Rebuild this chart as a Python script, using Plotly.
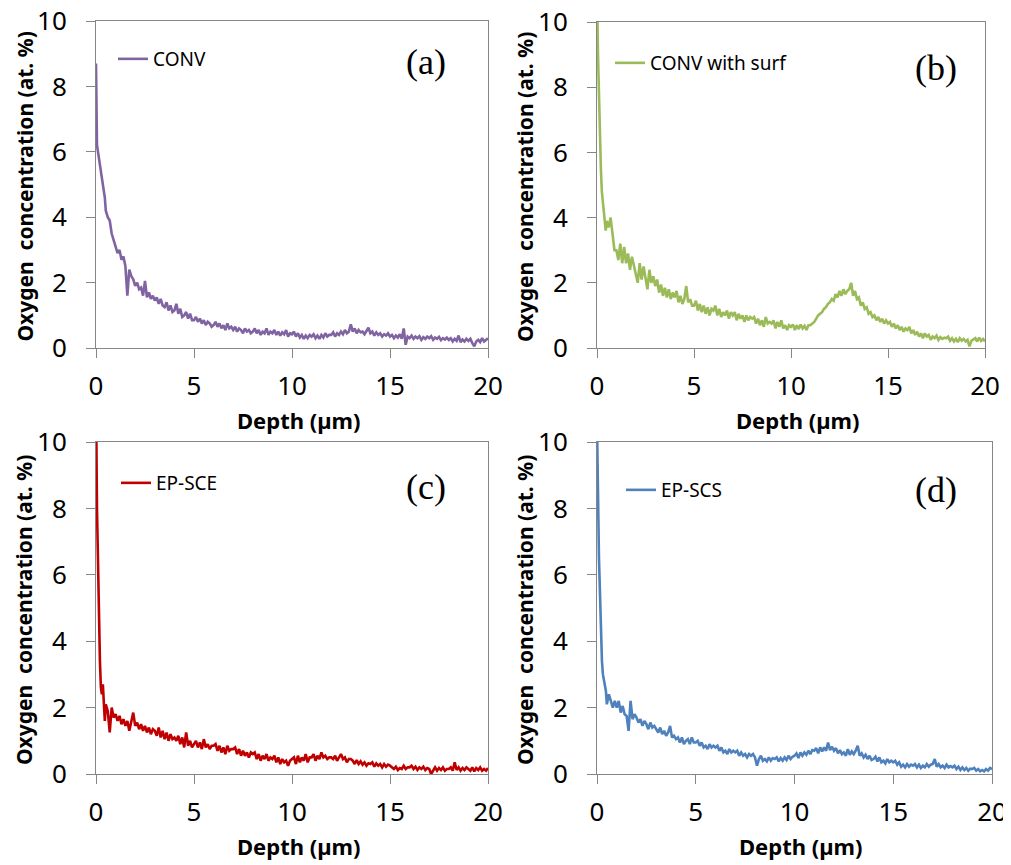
import plotly.graph_objects as go

# depth grid (um)
DEPTH = [
    0, 0.02, 0.05, 0.1, 0.15, 0.2, 0.25, 0.3, 0.35, 0.4, 0.45, 0.5, 0.6, 0.7, 0.8, 0.9,
    1.0, 1.1, 1.2, 1.3, 1.4, 1.5, 1.6, 1.7, 1.8, 1.9,
    2.0, 2.1, 2.2, 2.3, 2.4, 2.5, 2.6, 2.7, 2.8, 2.9,
    3.0, 3.1, 3.2, 3.3, 3.4, 3.5, 3.6, 3.7, 3.8, 3.9,
    4.0, 4.1, 4.2, 4.3, 4.4, 4.5, 4.6, 4.7, 4.8, 4.9,
    5.0, 5.1, 5.2, 5.3, 5.4, 5.5, 5.6, 5.7, 5.8, 5.9,
    6.0, 6.1, 6.2, 6.3, 6.4, 6.5, 6.6, 6.7, 6.8, 6.9,
    7.0, 7.1, 7.2, 7.3, 7.4, 7.5, 7.6, 7.7, 7.8, 7.9,
    8.0, 8.1, 8.2, 8.3, 8.4, 8.5, 8.6, 8.7, 8.8, 8.9,
    9.0, 9.1, 9.2, 9.3, 9.4, 9.5, 9.6, 9.7, 9.8, 9.9,
    10.0, 10.1, 10.2, 10.3, 10.4, 10.5, 10.6, 10.7, 10.8, 10.9,
    11.0, 11.1, 11.2, 11.3, 11.4, 11.5, 11.6, 11.7, 11.8, 11.9,
    12.0, 12.1, 12.2, 12.3, 12.4, 12.5, 12.6, 12.7, 12.8, 12.9,
    13.0, 13.1, 13.2, 13.3, 13.4, 13.5, 13.6, 13.7, 13.8, 13.9,
    14.0, 14.1, 14.2, 14.3, 14.4, 14.5, 14.6, 14.7, 14.8, 14.9,
    15.0, 15.1, 15.2, 15.3, 15.4, 15.5, 15.6, 15.7, 15.8, 15.9,
    16.0, 16.1, 16.2, 16.3, 16.4, 16.5, 16.6, 16.7, 16.8, 16.9,
    17.0, 17.1, 17.2, 17.3, 17.4, 17.5, 17.6, 17.7, 17.8, 17.9,
    18.0, 18.1, 18.2, 18.3, 18.4, 18.5, 18.6, 18.7, 18.8, 18.9,
    19.0, 19.1, 19.2, 19.3, 19.4, 19.5, 19.6, 19.7, 19.8, 19.9,
    20.0,
]

# oxygen concentration (at. %)
CONV = [
    8.7, 7.2, 6.2, 6.0, 5.8, 5.5, 5.3, 5.1, 4.9, 4.75, 4.6, 4.2, 4.0, 3.9, 3.5, 3.3,
    3.1, 2.9, 3.0, 2.7, 2.8, 2.5, 1.6, 2.4, 2.2, 2.1,
    1.9, 2.0, 1.8, 1.85, 1.6, 2.05, 1.55, 1.7, 1.5, 1.6,
    1.45, 1.55, 1.35, 1.5, 1.3, 1.25, 1.4, 1.15, 1.3, 1.1,
    1.15, 1.35, 1.05, 1.2, 0.95, 1.0, 1.1, 0.9, 1.05, 0.85,
    0.85, 0.95, 0.8, 0.9, 0.75, 0.85, 0.7, 0.8, 0.75, 0.65,
    0.7, 0.8, 0.65, 0.75, 0.6, 0.7, 0.55, 0.75, 0.6, 0.65,
    0.55, 0.65, 0.5, 0.6, 0.55, 0.45, 0.6, 0.5, 0.55, 0.45,
    0.5, 0.6, 0.45, 0.55, 0.4, 0.5, 0.45, 0.6, 0.4, 0.5,
    0.45, 0.55, 0.4, 0.5, 0.38, 0.48, 0.42, 0.55, 0.35, 0.45,
    0.42, 0.5, 0.35, 0.45, 0.32, 0.4, 0.28, 0.38, 0.3, 0.4,
    0.35, 0.42, 0.3, 0.38, 0.28, 0.4, 0.32, 0.45, 0.35, 0.4,
    0.4, 0.48, 0.35, 0.45, 0.4, 0.5, 0.42, 0.55, 0.45, 0.5,
    0.72, 0.5, 0.6, 0.45, 0.55, 0.48, 0.5, 0.42, 0.52, 0.62,
    0.45, 0.5, 0.38, 0.48, 0.4, 0.45, 0.35, 0.42, 0.38, 0.45,
    0.35, 0.4, 0.3, 0.38, 0.32, 0.42, 0.28, 0.6, 0.1, 0.35,
    0.3, 0.38, 0.28, 0.35, 0.3, 0.36, 0.25, 0.33, 0.28, 0.35,
    0.3, 0.36, 0.25, 0.32, 0.28, 0.34, 0.24, 0.3, 0.26, 0.32,
    0.25, 0.3, 0.2, 0.28, 0.22, 0.38, 0.18, 0.26, 0.2, 0.28,
    0.22, 0.28, 0.15, 0.05, 0.2, 0.25, 0.18, 0.3, 0.2, 0.25,
    0.3,
]

CONV_SURF = [
    10.5, 10.2, 9.0, 7.6, 6.4, 5.5, 4.8, 4.5, 4.3, 4.1, 3.6, 3.9, 3.7, 4.0, 3.4, 3.0,
    3.0, 2.7, 3.2, 2.6, 3.1, 2.6, 2.9, 2.4, 2.8, 2.5,
    2.3, 2.0, 2.6, 2.1, 2.5, 2.2, 1.8, 2.4, 2.0, 2.2,
    1.9, 2.1, 1.7, 1.95, 1.6, 1.85, 1.55, 1.8, 1.5, 1.7,
    1.55, 1.75, 1.4, 1.6, 1.35, 1.5, 1.9, 1.4, 1.5, 1.3,
    1.3, 1.45, 1.15, 1.35, 1.1, 1.3, 1.05, 1.25, 1.0, 1.2,
    1.15, 1.3, 1.0, 1.2, 0.95, 1.1, 1.0, 1.15, 0.9, 1.1,
    1.0, 1.1, 0.85, 1.05, 0.9, 1.0, 0.8, 1.0, 0.85, 0.95,
    0.9, 0.95, 0.75, 0.9, 0.7, 0.85, 0.65, 0.95, 0.75, 0.8,
    0.75, 0.85, 0.6, 0.8, 0.65, 0.85, 0.6, 0.7, 0.55, 0.7,
    0.65, 0.72, 0.55, 0.7, 0.58, 0.72, 0.6, 0.68, 0.55, 0.7,
    0.7, 0.75, 0.8, 0.9, 1.0, 1.05, 1.1, 1.2, 1.25, 1.35,
    1.4, 1.5, 1.45, 1.65, 1.55, 1.75, 1.6, 1.8, 1.65, 1.75,
    1.8, 2.0, 1.6, 1.75, 1.5, 1.55, 1.3, 1.4, 1.2, 1.25,
    1.05, 1.1, 0.95, 1.0, 0.85, 0.95, 0.8, 0.9, 0.75, 0.85,
    0.75, 0.8, 0.65, 0.75, 0.6, 0.7, 0.55, 0.65, 0.5, 0.6,
    0.55, 0.65, 0.45, 0.55, 0.4, 0.5, 0.35, 0.45, 0.3, 0.45,
    0.35, 0.4, 0.25, 0.35, 0.3, 0.38, 0.25, 0.33, 0.28, 0.32,
    0.3, 0.35, 0.22, 0.3, 0.2, 0.28, 0.18, 0.3, 0.22, 0.28,
    0.2, 0.25, 0.05, 0.22, 0.25, 0.3, 0.2, 0.32, 0.22, 0.28,
    0.2,
]

EP_SCE = [
    10.5, 10.0, 8.0, 6.2, 4.8, 3.4, 2.6, 2.4, 2.7, 2.0, 1.6, 2.1, 1.9, 1.25, 2.0, 1.7,
    1.8, 1.6, 1.75, 1.5, 1.65, 1.45, 1.6, 1.3, 1.55, 1.85,
    1.45, 1.55, 1.35, 1.5, 1.3, 1.45, 1.25, 1.4, 1.2, 1.35,
    1.3, 1.15, 1.4, 1.1, 1.3, 1.05, 1.25, 1.0, 1.2, 1.05,
    1.1, 1.0, 1.15, 0.9, 1.1, 0.8, 1.25, 0.85, 1.0, 0.8,
    0.9, 1.0, 0.8, 0.95, 0.75, 1.05, 0.8, 0.9, 0.75, 0.85,
    0.85, 0.9, 0.7, 0.85, 0.65, 0.8, 0.6, 0.85, 0.7, 0.75,
    0.75, 0.8, 0.6, 0.75, 0.55, 0.7, 0.55, 0.65, 0.5, 0.65,
    0.6, 0.65, 0.45, 0.6, 0.4, 0.55, 0.45, 0.6, 0.4, 0.5,
    0.45, 0.55, 0.35, 0.5, 0.3, 0.45, 0.35, 0.4, 0.25, 0.4,
    0.45, 0.5, 0.3, 0.55, 0.35, 0.5, 0.4, 0.6, 0.35, 0.5,
    0.5, 0.6, 0.4, 0.55, 0.45, 0.65, 0.5, 0.55, 0.45, 0.5,
    0.5, 0.45, 0.55, 0.4, 0.5, 0.6, 0.45, 0.5, 0.35, 0.45,
    0.45, 0.4, 0.3, 0.42, 0.3, 0.38, 0.28, 0.35, 0.25, 0.32,
    0.3, 0.35, 0.22, 0.32, 0.25, 0.3, 0.2, 0.3, 0.22, 0.28,
    0.25, 0.2, 0.15, 0.22, 0.12, 0.18, 0.15, 0.25, 0.15, 0.2,
    0.2, 0.25, 0.15, 0.22, 0.12, 0.2, 0.15, 0.22, 0.12, 0.18,
    0.15, 0.0, 0.12, 0.2, 0.1, 0.18, 0.12, 0.2, 0.1, 0.15,
    0.15, 0.2, 0.1, 0.35, 0.12, 0.2, 0.1, 0.18, 0.12, 0.2,
    0.15, 0.1, 0.2, 0.08, 0.18, 0.12, 0.2, 0.1, 0.15, 0.1,
    0.18,
]

EP_SCS = [
    10.5, 10.0, 8.5, 6.5, 5.2, 4.0, 3.4, 3.0, 2.8, 2.6, 2.5, 2.1, 2.4, 2.2, 2.0, 2.2,
    2.0, 2.2, 1.85, 2.05, 1.8, 1.75, 1.3, 2.2, 1.65, 1.8,
    1.7, 1.55, 1.65, 1.45, 1.6, 1.5, 1.35, 1.55, 1.4, 1.45,
    1.35, 1.25, 1.4, 1.2, 1.3, 1.15, 1.25, 1.45, 1.1, 1.15,
    1.05, 1.1, 0.95, 1.1, 0.9, 1.0, 1.05, 0.9, 1.1, 0.95,
    0.95, 1.0, 0.85, 0.95, 0.8, 0.85, 0.75, 0.9, 0.8, 0.85,
    0.8, 0.85, 0.7, 0.8, 0.65, 0.7, 0.6, 0.75, 0.65, 0.7,
    0.65, 0.7, 0.55, 0.65, 0.55, 0.6, 0.5, 0.6, 0.55, 0.6,
    0.5, 0.25, 0.45, 0.55, 0.4, 0.45, 0.38, 0.5, 0.4, 0.48,
    0.45, 0.5, 0.38, 0.48, 0.4, 0.5, 0.42, 0.55, 0.45, 0.52,
    0.55, 0.62, 0.48, 0.65, 0.55, 0.65, 0.58, 0.7, 0.6, 0.72,
    0.7, 0.78, 0.62, 0.8, 0.68, 0.8, 0.7, 0.95, 0.72, 0.82,
    0.7, 0.78, 0.62, 0.72, 0.6, 0.65, 0.55, 0.75, 0.58, 0.68,
    0.6, 0.7, 0.85, 0.55, 0.62, 0.5, 0.58, 0.45, 0.55, 0.42,
    0.45, 0.52, 0.38, 0.5, 0.35, 0.4, 0.32, 0.45, 0.35, 0.4,
    0.35, 0.4, 0.28, 0.35, 0.22, 0.28, 0.2, 0.3, 0.22, 0.28,
    0.25, 0.3, 0.2, 0.28, 0.18, 0.25, 0.2, 0.3, 0.22, 0.28,
    0.3, 0.45, 0.22, 0.3, 0.2, 0.25, 0.18, 0.28, 0.2, 0.24,
    0.2, 0.25, 0.15, 0.22, 0.12, 0.2, 0.12, 0.18, 0.1, 0.16,
    0.15, 0.18, 0.1, 0.15, 0.08, 0.12, 0.08, 0.15, 0.1, 0.18,
    0.15,
]

SERIES_NAMES = ["CONV", "CONV with surf", "EP-SCE", "EP-SCS"]
PANEL_TAGS = ["(a)", "(b)", "(c)", "(d)"]
Y_TICKS = [0, 2, 4, 6, 8, 10]
X_TICKS = [0, 5, 10, 15, 20]

# page body adds an 8px margin, so the figure is a bit smaller than the window
OFF = 8
W, H = 1003, 857
colors = ["#8064A2", "#9BBB59", "#C00000", "#4F81BD"]
series = [CONV, CONV_SURF, EP_SCE, EP_SCS]

# plot areas in window pixels: (left, right, top, bottom)
boxes = [(96, 488, 21, 348), (597, 985, 22, 348), (96, 488, 442, 774), (597, 992, 442, 774)]
# where each legend box starts (x) and its middle (y), window pixels
leg_pos = [(113, 59), (610, 63), (116, 483), (621, 490)]
tag_pos = [(426, 62), (936, 68), (426, 487), (936, 490)]


def fx(px):
    return (px - OFF) / W


def fy(py):
    return 1 - (py - OFF) / H


font = "Noto Sans"
fig = go.Figure()
layout = dict(width=W, height=H, margin=dict(l=0, r=0, t=0, b=0),
              paper_bgcolor="white", plot_bgcolor="white", showlegend=True,
              annotations=[])

for i in range(4):
    n = "" if i == 0 else str(i + 1)
    l, r, t, b = boxes[i]
    legname = "legend" + n
    fig.add_trace(go.Scatter(x=DEPTH, y=series[i], mode="lines", name=SERIES_NAMES[i],
                             line=dict(color=colors[i], width=2.6),
                             xaxis="x" + n, yaxis="y" + n, legend=legname))
    layout["xaxis" + n] = dict(domain=[fx(l), fx(r)], anchor="y" + n, range=[0, 20],
                               tickvals=X_TICKS, ticks="outside", ticklen=9,
                               tickcolor="#868686", showline=True, linecolor="#868686",
                               mirror=True, showgrid=False, zeroline=False,
                               automargin=False, ticklabelstandoff=6,
                               ticklabeloverflow="allow",
                               tickfont=dict(family=font, size=26, color="black"))
    layout["yaxis" + n] = dict(domain=[fy(b), fy(t)], anchor="x" + n, range=[0, 10],
                               tickvals=Y_TICKS, ticks="outside", ticklen=9,
                               tickcolor="#868686", showline=True, linecolor="#868686",
                               mirror=True, showgrid=False, zeroline=False,
                               automargin=False, ticklabelstandoff=14,
                               ticklabeloverflow="allow",
                               tickfont=dict(family=font, size=26, color="black"))
    lx, ly = leg_pos[i]
    layout[legname] = dict(x=fx(lx), y=fy(ly), xanchor="left", yanchor="middle",
                           bgcolor="rgba(0,0,0,0)", font=dict(family=font, size=19, color="black"))
    # axis titles
    layout["annotations"].append(dict(text="<b>Depth (µm)</b>", xref="paper", yref="paper",
                                      x=fx((l + r) / 2 + 6), y=fy(b + 72),
                                      xanchor="center", yanchor="middle", showarrow=False,
                                      font=dict(family=font, size=22, color="black")))
    layout["annotations"].append(dict(text="<b>Oxygen  concentration (at. %)</b>", xref="paper",
                                      yref="paper", x=fx(l - 72), y=fy((t + b) / 2 + 2),
                                      xanchor="center", yanchor="middle",
                                      textangle=-90, showarrow=False,
                                      font=dict(family=font, size=21, color="black")))
    tx, ty = tag_pos[i]
    layout["annotations"].append(dict(text=PANEL_TAGS[i], xref="paper", yref="paper",
                                      x=fx(tx), y=fy(ty), xanchor="center", yanchor="middle",
                                      showarrow=False,
                                      font=dict(family="Liberation Serif", size=36, color="black")))

fig.update_layout(**layout)
fig.write_html("out.html")
